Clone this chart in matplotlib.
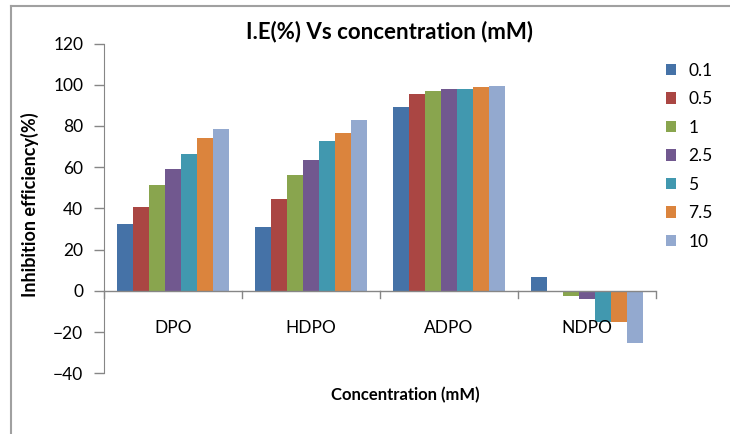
import numpy as np
import matplotlib
matplotlib.use("Agg")
import matplotlib.pyplot as plt
from matplotlib.lines import Line2D
from matplotlib.patches import Patch

plt.rcParams['font.family'] = ['Lato', 'DejaVu Sans']

categories = ['DPO', 'HDPO', 'ADPO', 'NDPO']
concentrations = ['0.1', '0.5', '1', '2.5', '5', '7.5', '10']
# inhibition efficiency (%) per concentration, one value per compound
ie_values = [
    [32.5, 31.0, 89.0, 6.5],     # 0.1
    [40.8, 44.7, 95.6, 0.0],     # 0.5
    [51.5, 56.3, 97.0, -2.3],    # 1
    [59.0, 63.6, 97.9, -3.9],    # 2.5
    [66.5, 72.8, 97.9, -15.0],   # 5
    [74.0, 76.7, 98.7, -15.0],   # 7.5
    [78.6, 83.0, 99.5, -25.2],   # 10
]
colors = ['#4572A7', '#AA4643', '#89A54E', '#71588F', '#4198AF', '#DB843D', '#93A9CF']

fig = plt.figure(figsize=(7.30, 4.34), dpi=100)
W, H = 730, 434
ax = fig.add_axes([104 / W, 1 - 373.3 / H, (656 - 104) / W, (373.3 - 43.5) / H])

bw = 0.1163
x = np.arange(len(categories))
for i, (lab, vals) in enumerate(zip(concentrations, ie_values)):
    ax.bar(x + (i - 3) * bw, vals, bw, color=colors[i], label=lab,
           edgecolor='none', zorder=2)

ax.set_xlim(-0.5, 3.5)
ax.set_ylim(-40, 120)
ax.set_yticks(np.arange(-40, 121, 20))
ax.tick_params(axis='y', direction='out', length=7, width=1, color='#868686',
               labelsize=12.5, pad=8)
ax.set_xticks([])
for s in ['top', 'right', 'bottom']:
    ax.spines[s].set_visible(False)
ax.spines['left'].set_color('#868686')

# category axis drawn at zero with boundary ticks
ax.axhline(0, color='#868686', lw=1, zorder=3)
for b in np.arange(-0.5, 4.0, 1.0):
    ax.plot([b, b], [0, -3.4], color='#868686', lw=1, clip_on=False, zorder=3)
trans = matplotlib.transforms.blended_transform_factory(ax.transData, ax.transAxes)
for xi, c in zip(x, categories):
    ax.text(xi, 0.137, c, transform=trans, ha='center', va='center', fontsize=12.5)

fig.text(390 / W, 1 - 32 / H, 'I.E(%) Vs concentration (mM)', ha='center', va='center',
         fontsize=16, fontweight='bold')
fig.text(30 / W, 1 - 205 / H, 'Inhibition efficiency(%)', ha='center', va='center',
         rotation=90, fontsize=13, fontweight='bold')
fig.text(405 / W, 1 - 395 / H, 'Concentration (mM)', ha='center', va='center',
         fontsize=12, fontweight='bold')

handles = [Patch(facecolor=colors[i], edgecolor='none') for i in range(7)]
fig.legend(handles, concentrations, loc='upper left', bbox_to_anchor=(650 / W, 1 - 47 / H),
           frameon=False, fontsize=12.5, handlelength=0.6, handleheight=0.6,
           labelspacing=0.72, handletextpad=0.7)

# outer chart border
fig.add_artist(Line2D([11 / W, 1], [1 - 6 / H, 1 - 6 / H], color='#a0a0a0', lw=1.5))
fig.add_artist(Line2D([11 / W, 11 / W], [0, 1 - 6 / H], color='#a0a0a0', lw=1.5))

fig.savefig('out.png', dpi=100)
